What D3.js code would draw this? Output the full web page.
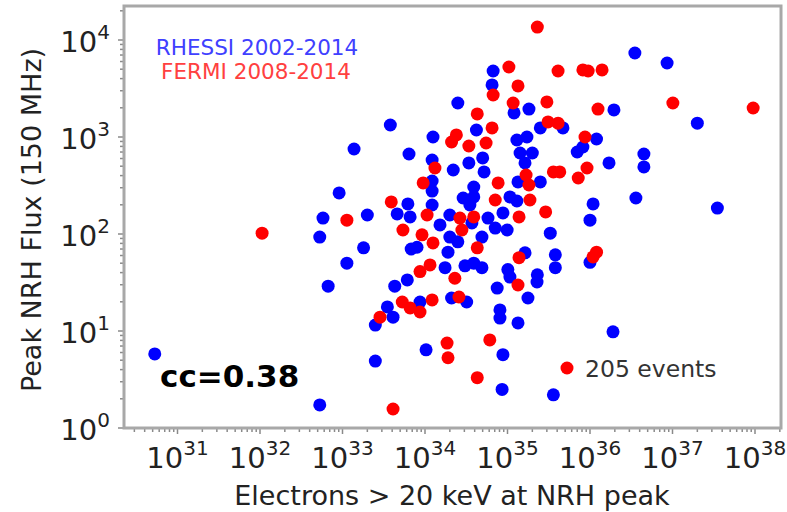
<!DOCTYPE html>
<html><head><meta charset="utf-8">
<script src="https://cdn.jsdelivr.net/npm/d3@7"></script>
<style>body{margin:0;background:#fff}svg{display:block}</style>
</head><body><svg id="c" width="787" height="512"></svg>
<script>
// RHESSI 2002-2014 (blue)
const rhessiElectrons = [5.3e30,5.3e32,5.8e32,2.0e33,5.3e32,1.8e33,1.13e33,6.7e32,4.3e33,6.1e33,3.5e33,4.1e33,2.5e33,1.03e34,2.5e33,
  3.8e33,1.38e33,1.25e34,6.4e33,1.22e34,1.22e34,1.22e34,9.1e32,6.2e33,1.22e34,4.6e33,6.6e33,1.52e34,2.0e34,3.5e34,3.7e34,8.0e33,6.8e33,
  2.0e34,2.5e34,1.9e34,1.75e34,3.05e34,3.9e34,4.9e34,8.7e33,2.1e34,3.2e34,2.2e34,3.4e34,2.9e34,3.9e34,2.5e34,4.2e34,6.7e34,6.5e34,
  1.2e35,1.82e35,1.95e36,2.0e37,3.5e36,8.6e36,1.3e35,1.72e35,2.5e35,4.7e35,1.2e36,8.2e35,7.0e35,1.42e35,2.0e35,1.63e35,1.7e36,4.5e36,
  4.5e36,5.0e34,5.2e34,1.34e35,2.5e35,1.07e35,1.3e35,1.09e36,3.6e36,3.5e37,8.8e34,5.8e34,7.1e34,9.9e34,1.0e36,4.9e34,3.3e35,1.63e35,
  3.8e35,3.8e35,1.0e36,1.01e35,1.07e35,2.3e35,2.28e35,7.5e34,1.77e35,8.1e34,8.1e34,1.34e35,1.9e36,8.8e34,8.6e34,3.6e35,3.9e34];
const rhessiFlux = [5.8,1.73,146,157,93,72,50,29,29,33.6,17.7,13.9,11.5,6.4,4.9,
  1330,752,1000,668,579,352,277,265,204,199,161,150,124,157,199,130,73,70,
  93,83,65,45,47,50,45,19.9,21.9,19.9,457,540,235,305,2240,1180,4790,3440,
  1770,1940,1900,1390,7340,5790,931,1000,1240,1240,954,789,700,684,684,540,540,668,
  491,608,436,344,344,241,219,204,235,185,165,146,115,110,139,93,102,64,
  61,45,51,43,36,38,32,27.7,21.9,16.5,13.6,12.1,9.8,5.7,2.5,2.2,241];
// FERMI 2008-2014 (red)
const fermiElectrons = [1.06e32,1.13e33,3.9e33,1.06e34,5.4e33,9.2e33,1.25e34,1.15e34,8.7e33,5.3e33,6.6e33,8.7e33,1.22e34,2.85e33,
  1.85e34,1.9e34,4.1e33,2.4e34,2.1e34,3.4e34,1.32e34,9.5e33,2.65e34,2.8e34,3.9e34,2.3e34,2.58e34,4.3e34,2.3e35,1.04e35,1.34e35,
  6.7e34,4.1e35,8.2e35,9.5e35,1.4e36,1.17e35,3.0e35,1.25e36,1.01e37,9.5e37,4.3e34,6.5e34,5.5e34,3.1e35,4.1e35,8.7e35,3.6e35,4.3e35,
  7.2e35,9.2e35,1.68e35,1.82e35,7.7e34,7.1e34,1.87e35,2.9e35,1.38e35,1.38e35,1.34e35,1.2e36,1.09e36,6.1e34,4.3e34];
const fermiFlux = [102,139,214,157,110,98,81,48,41,19.9,17.3,15.7,20.9,13.9,
  7.5,5.3,1.57,1050,888,808,479,336,146,110,150,35,22.4,72,13600,5270,3360,
  2710,4790,4910,4790,4910,2240,2300,1940,2240,1990,1730,1240,867,1430,1390,1000,436,436,
  378,479,406,320,336,224,224,169,150,57,29.8,65,58,8.1,3.3];
const xTickExponents = [31,32,33,34,35,36,37,38];
const yTickExponents = [0,1,2,3,4];
const legendTitles = ["RHESSI 2002-2014","FERMI 2008-2014"];
const ccText = "cc=0.38";
const eventsLabel = "205 events";
const xTitle = "Electrons > 20 keV at NRH peak";
const yTitle = "Peak NRH Flux (150 MHz)";

const svg = d3.select("#c");
const FONT = "DejaVu Sans, Liberation Sans, sans-serif";
const L = 124, R = 781, T = 6, B = 428;
const x = d3.scaleLog().domain([1e31,1e38]).range([177.5,755]);
const y = d3.scaleLog().domain([1,1e4]).range([428,40]);

// minor + major ticks
const tickG = svg.append("g").attr("stroke","#8a8a8a").attr("stroke-width",1.5);
for (let e = 30; e <= 38; e++) {
  for (let m = 1; m <= 9; m++) {
    const v = m * Math.pow(10,e), px = x(v);
    if (px < L || px > R) continue;
    const len = m === 1 ? 5 : 3;
    tickG.append("line").attr("x1",px).attr("x2",px).attr("y1",B+1).attr("y2",B+1+len);
  }
}
for (let e = 0; e <= 4; e++) {
  for (let m = 1; m <= 9; m++) {
    const v = m * Math.pow(10,e), py = y(v);
    if (py < T || py > B) continue;
    const len = m === 1 ? 5 : 3;
    tickG.append("line").attr("y1",py).attr("y2",py).attr("x1",L-1).attr("x2",L-1-len);
  }
}

// frame
svg.append("rect").attr("x",L).attr("y",T).attr("width",R-L).attr("height",B-T)
  .attr("fill","none").attr("stroke","#a8a8a8").attr("stroke-width",3);

// tick labels
xTickExponents.forEach(e => {
  const t = svg.append("text").attr("x",x(Math.pow(10,e))).attr("y",468)
    .attr("text-anchor","middle").attr("font-family",FONT).attr("fill","#222");
  t.append("tspan").attr("font-size",29).text("10");
  t.append("tspan").attr("font-size",20).attr("dy",-13).text(String(e));
});
yTickExponents.forEach(e => {
  const t = svg.append("text").attr("x",110).attr("y",y(Math.pow(10,e))+12)
    .attr("text-anchor","end").attr("font-family",FONT).attr("fill","#222");
  t.append("tspan").attr("font-size",29).text("10");
  t.append("tspan").attr("font-size",20).attr("dy",-13).text(String(e));
});

// axis titles
svg.append("text").attr("x",452).attr("y",505).attr("text-anchor","middle")
  .attr("font-family",FONT).attr("font-size",27).attr("fill","#222").text(xTitle);
svg.append("text").attr("transform","translate(41,220) rotate(-90)").attr("text-anchor","middle")
  .attr("font-family",FONT).attr("font-size",27).attr("fill","#222").text(yTitle);

// points
const plot = svg.append("g");
plot.selectAll("circle.b").data(rhessiElectrons.map((e,i)=>[e,rhessiFlux[i]])).join("circle")
  .attr("class","b").attr("cx",d=>x(d[0])).attr("cy",d=>y(d[1])).attr("r",6.5).attr("fill","#0000ff");
plot.selectAll("circle.r").data(fermiElectrons.map((e,i)=>[e,fermiFlux[i]])).join("circle")
  .attr("class","r").attr("cx",d=>x(d[0])).attr("cy",d=>y(d[1])).attr("r",6.5).attr("fill","#ff0000");

// texts
svg.append("text").attr("x",257).attr("y",55).attr("text-anchor","middle").attr("font-family",FONT)
  .attr("font-size",21.5).attr("fill","#4040ff").text(legendTitles[0]);
svg.append("text").attr("x",256).attr("y",79).attr("text-anchor","middle").attr("font-family",FONT)
  .attr("font-size",21.5).attr("fill","#ff4040").text(legendTitles[1]);
svg.append("text").attr("x",160).attr("y",387).attr("font-family",FONT).attr("font-weight","bold")
  .attr("font-size",31).attr("fill","#000").text(ccText);
svg.append("circle").attr("cx",567).attr("cy",368).attr("r",6.5).attr("fill","#ff0000");
svg.append("text").attr("x",585).attr("y",377).attr("font-family",FONT)
  .attr("font-size",23.5).attr("fill","#333").text(eventsLabel);
</script>
</body></html>
